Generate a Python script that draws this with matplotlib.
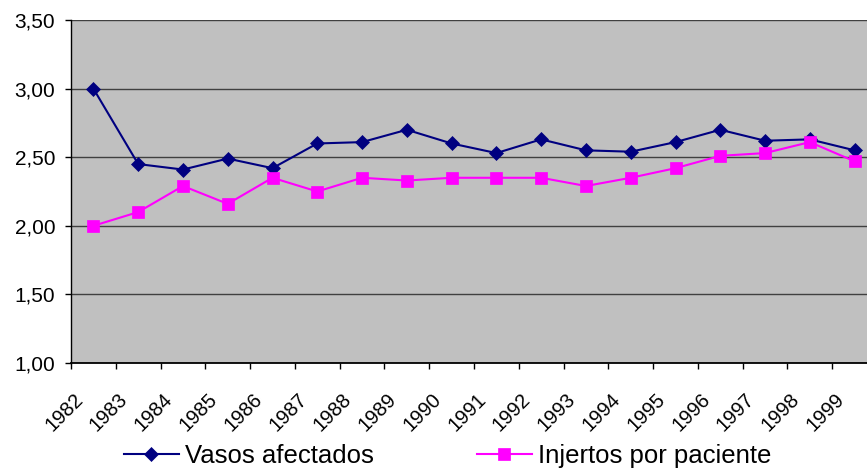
import matplotlib
matplotlib.use('Agg')
import matplotlib.pyplot as plt
from matplotlib.ticker import FixedLocator, FuncFormatter

plt.rcParams['font.family'] = ['Liberation Sans', 'DejaVu Sans']

# datos
years = [str(y) for y in range(1982, 2000)]
vasos = [3.00, 2.45, 2.41, 2.49, 2.42, 2.60, 2.61, 2.70, 2.60,
         2.53, 2.63, 2.55, 2.54, 2.61, 2.70, 2.62, 2.63, 2.55]
injertos = [2.00, 2.10, 2.29, 2.16, 2.35, 2.25, 2.35, 2.33, 2.35,
            2.35, 2.35, 2.29, 2.35, 2.42, 2.51, 2.53, 2.61, 2.47]
y_ticks = [1.00, 1.50, 2.00, 2.50, 3.00, 3.50]

fig = plt.figure(figsize=(8.67, 4.68), dpi=100)
# el area del grafico sale por la derecha de la imagen
ax = fig.add_axes([71 / 867, 1 - 363 / 468, 806 / 867, 343 / 468])
ax.set_facecolor('#C0C0C0')

x = list(range(len(years)))
ax.plot(x, vasos, color='#000080', lw=1.5, marker='D', ms=7.2,
        mec='#000080', mew=0.5, label='Vasos afectados', zorder=3)
ax.plot(x, injertos, color='#FF00FF', lw=1.5, marker='s', ms=9.3,
        mec='#FF00FF', mew=0.5, label='Injertos por paciente', zorder=3)

ax.set_xlim(-0.5, len(years) - 0.5)
ax.set_ylim(1.0, 3.5)
ax.yaxis.set_major_locator(FixedLocator(y_ticks))
ax.yaxis.set_major_formatter(FuncFormatter(lambda v, p: f'{v:.2f}'.replace('.', ',')))
ax.grid(axis='y', color='#404040', lw=1.0)
ax.set_axisbelow(True)

for s in ['top', 'right']:
    ax.spines[s].set_visible(False)
ax.spines['left'].set_color('black')
ax.spines['bottom'].set_color('black')
ax.spines['left'].set_linewidth(1.0)
ax.spines['bottom'].set_linewidth(1.3)

ax.tick_params(axis='y', labelsize=15, length=4.3, width=1, pad=7, color='black')

# marcas entre categorias; etiquetas giradas que arrancan cerca de la marca izquierda
ax.set_xticks([i - 0.5 for i in range(len(years) + 1)], minor=True)
ax.set_xticks([i - 0.45 for i in x])
ax.set_xticklabels(years, rotation=45, ha='right', va='top', rotation_mode='anchor')
ax.tick_params(axis='x', which='minor', length=4.3, width=1, color='black')
ax.tick_params(axis='x', which='major', length=0, labelsize=14.5, pad=19)

fig.legend(loc='center', bbox_to_anchor=(447.5 / 867, 1 - 456 / 468), ncol=2,
           frameon=False, fontsize=18.5, handlelength=2.14, handletextpad=0.25,
           columnspacing=4.0, borderpad=0)

fig.savefig('out.png', dpi=100)
